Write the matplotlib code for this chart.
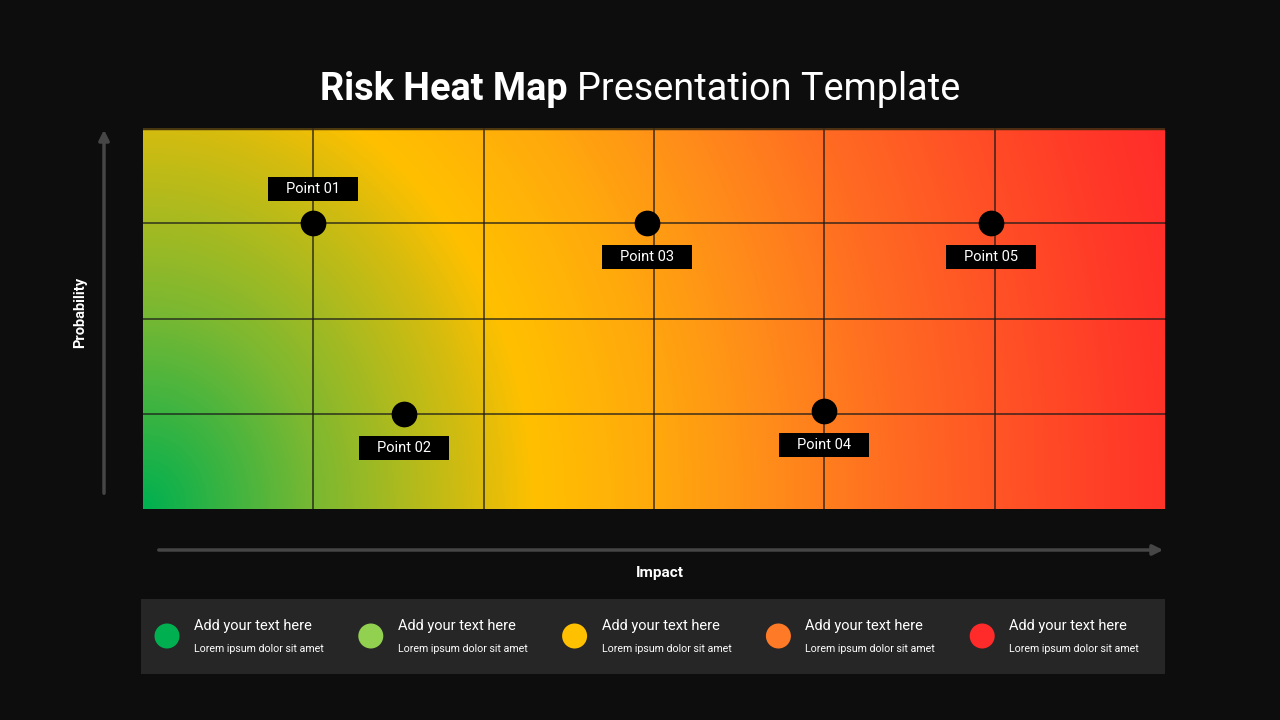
import numpy as np
import matplotlib.pyplot as plt
from matplotlib.colors import LinearSegmentedColormap
from matplotlib.patches import Rectangle, Circle, FancyArrowPatch
from matplotlib import font_manager

plt.switch_backend('agg')

# grid of the heat map: impact columns x probability rows
n_cols = 6
n_rows = 4

# risk points, in grid units (impact, probability)
point_names = ['Point 01', 'Point 02', 'Point 03', 'Point 04', 'Point 05']
point_x = [1.0, 1.53, 2.96, 4.0, 4.98]
point_y = [3.0, 1.0, 3.0, 1.03, 3.0]
label_above = [True, False, False, False, False]

# legend items below the chart
legend_colors = ['#00b050', '#92d050', '#ffc000', '#ff7a26', '#ff2b2b']
legend_titles = ['Add your text here'] * 5
legend_texts = ['Lorem ipsum dolor sit amet'] * 5

# background gradient: distance from the low/low corner (px) -> colour
grad_pos = [0, 170, 330, 390, 510, 630, 760, 880, 1000, 1090]
grad_cols = ['#00b050', '#7ab832', '#d6bc0e', '#ffc000', '#ffaa0c',
             '#ff8c1a', '#ff6a22', '#ff5026', '#ff3828', '#ff2a2a']

BG = '#0d0d0d'
names = {f.name for f in font_manager.fontManager.ttflist}
NARROW = 'Liberation Sans Narrow' if 'Liberation Sans Narrow' in names else 'Roboto'

W, H = 1280, 720
fig = plt.figure(figsize=(12.8, 7.2), dpi=100, facecolor=BG)

# overlay in pixel coordinates for arrows / legend panel / titles
ov = fig.add_axes([0, 0, 1, 1])
ov.set_xlim(0, W)
ov.set_ylim(H, 0)
ov.axis('off')

# main heat map axes
left, right, top, bottom = 143, 1165, 128, 509
ax = fig.add_axes([left / W, 1 - bottom / H, (right - left) / W, (bottom - top) / H])
ax.set_xlim(0, n_cols)
ax.set_ylim(0, n_rows)
ax.axis('off')

# gradient image (elliptic distance from bottom-left corner)
cell_w = (right - left) / n_cols
cell_h = (bottom - top) / n_rows
gx, gy = np.meshgrid(np.linspace(0, n_cols, 600), np.linspace(0, n_rows, 300))
dist = np.sqrt((gx * cell_w) ** 2 + (0.86 * gy * cell_h) ** 2)
cmap = LinearSegmentedColormap.from_list(
    'risk', list(zip(np.array(grad_pos) / grad_pos[-1], grad_cols)))
ax.imshow(dist, cmap=cmap, vmin=0, vmax=grad_pos[-1], origin='lower',
          extent=(0, n_cols, 0, n_rows), aspect='auto', interpolation='bilinear', zorder=0)

for i in range(1, n_cols):
    ax.axvline(i, color='#1a1a1a', lw=1.1, alpha=0.85, zorder=1)
for j in range(1, n_rows):
    ax.axhline(j, color='#1a1a1a', lw=1.1, alpha=0.85, zorder=1)
ax.axhline(n_rows, color='#3a2a10', lw=2.5, alpha=0.9, zorder=1)

# points and their labels
box_w = 90 / cell_w
box_h = 24 / cell_h
off = 34 / cell_h
ax.plot(point_x, point_y, 'o', ms=17.5, color='black', zorder=3)
for name, x, y, up in zip(point_names, point_x, point_y, label_above):
    cy = y + off if up else y - off
    ax.add_patch(Rectangle((x - box_w / 2, cy - box_h / 2), box_w, box_h,
                           facecolor='black', edgecolor='none', zorder=4))
    ax.text(x, cy, name, color='white', fontsize=10.5, family=NARROW,
            ha='center', va='center', zorder=5)

# axis arrows
ov.add_patch(FancyArrowPatch((104, 496), (104, 127), arrowstyle='-|>,head_length=6,head_width=3',
                             color='#464646', lw=2.5, mutation_scale=1))
ov.add_patch(FancyArrowPatch((156, 550), (1166, 550), arrowstyle='-|>,head_length=6,head_width=3',
                             color='#464646', lw=2.5, mutation_scale=1))
ov.text(80, 312, 'Probability', rotation=90, color='white', fontsize=10.5,
        fontweight='bold', family=NARROW, ha='center', va='center')
ov.text(660, 573, 'Impact', color='white', fontsize=11, fontweight='bold',
        family=NARROW, ha='center', va='center')

# legend panel
ov.add_patch(Rectangle((141, 599), 1024, 75, facecolor='#262626', edgecolor='none'))
for k, (c, t1, t2) in enumerate(zip(legend_colors, legend_titles, legend_texts)):
    cx = 167 + k * 203.8
    ov.add_patch(Circle((cx, 636), 12.5, facecolor=c, edgecolor='none'))
    ov.text(cx + 27, 626, t1, color='white', fontsize=10.5, family=NARROW,
            ha='left', va='center')
    ov.text(cx + 27, 649, t2, color='white', fontsize=7.7, family=NARROW,
            ha='left', va='center')

# two-weight title, centred as a whole
t_bold = fig.text(0, 1 - 100 / H, 'Risk Heat Map', color='white', fontsize=27.3,
                  fontweight='bold', family=NARROW, ha='left', va='baseline')
t_reg = fig.text(0, 1 - 100 / H, 'Presentation Template', color='white', fontsize=27.3,
                 family=NARROW, ha='left', va='baseline')
fig.canvas.draw()
r = fig.canvas.get_renderer()
w1 = t_bold.get_window_extent(r).width
w2 = t_reg.get_window_extent(r).width
gap = 9
x0 = (W - (w1 + gap + w2)) / 2
t_bold.set_x(x0 / W)
t_reg.set_x((x0 + w1 + gap) / W)

fig.savefig('out.png', dpi=100, facecolor=BG)
